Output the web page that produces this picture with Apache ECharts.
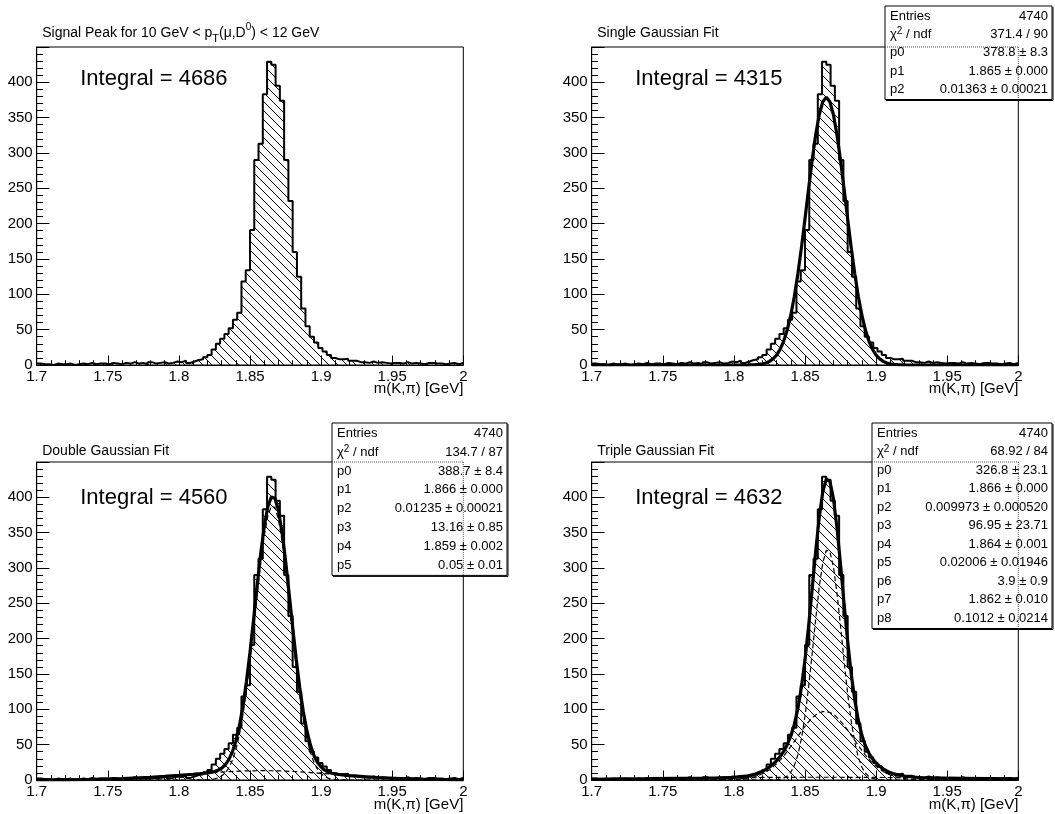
<!DOCTYPE html>
<html><head><meta charset="utf-8">
<script src="https://cdn.jsdelivr.net/npm/echarts@6/dist/echarts.min.js"></script>
<style>html,body{margin:0;padding:0;background:#fff}#c{width:1055px;height:814px}</style>
</head><body><div id="c"></div>
<script>
// ---------------- data ----------------
const histRange = [1.7, 2.0];
const histCounts = [
  2,1,1,0,2,1,1,2,0,1,
  2,1,3,1,2,2,1,3,2,1,
  3,2,4,2,3,1,4,2,3,4,
  2,3,5,4,6,3,5,7,8,11,
  14,22,30,37,44,52,64,74,118,134,
  191,290,313,383,429,425,395,374,290,232,
  160,125,80,55,40,32,24,19,14,10,
  8,8,9,6,6,4,4,3,5,3,
  4,3,2,3,3,2,4,2,3,2,
  1,3,3,2,2,1,2,3,1,3
];
const fitX = [1.70,1.72,1.74,1.76,1.78,1.79,1.80,1.81,
  1.815,1.8175,1.82,1.8225,1.825,1.8275,1.83,1.8325,1.835,1.8375,1.84,1.8425,1.845,1.8475,
  1.85,1.8525,1.855,1.8575,1.86,1.8625,1.865,1.8675,1.87,1.8725,1.875,1.8775,1.88,1.8825,
  1.885,1.8875,1.89,1.8925,1.895,1.8975,1.90,1.9025,1.905,1.9075,1.91,1.9125,1.915,
  1.92,1.93,1.94,1.96,1.98,2.00];
const singleFit = [0,0,0,0,0,0,0.01,0.11,
  0.45,0.87,1.63,2.93,5.11,8.60,14.0,22.1,33.6,49.5,70.5,97.0,129.1,166.1,
  206.7,248.8,289.4,325.6,354.1,372.5,378.8,372.5,354.1,325.6,289.4,248.8,206.7,166.1,
  129.1,97.0,70.5,49.5,33.6,22.1,14.0,8.60,5.11,2.93,1.63,0.87,0.45,
  0.11,0,0,0,0,0];
const doubleFit = [0.08,0.28,0.78,1.85,3.78,5.08,6.56,8.15,
  9.02,9.50,10.09,10.87,12.01,13.80,16.67,21.24,28.39,39.10,54.61,76.04,104.27,139.4,
  180.9,226.9,274.5,319.9,358.6,386.5,400.5,398.8,381.7,351.1,310.6,264.3,216.6,171.0,
  130.6,96.6,69.7,49.4,34.8,24.8,18.2,13.9,11.3,9.6,8.5,7.75,7.18,
  6.28,4.80,3.54,1.71,0.70,0.25];
const doubleG1 = [0,0,0,0,0,0,0,0.01,
  0.08,0.17,0.38,0.79,1.57,3.02,5.55,9.81,16.66,27.11,42.37,63.59,91.62,126.6,
  168.0,213.9,261.4,306.7,345.4,373.4,387.4,385.8,368.8,338.4,298.1,252.0,204.5,159.2,
  119.1,85.4,58.8,38.9,24.68,15.03,8.79,4.93,2.66,1.37,0.68,0.32,0.15,
  0.03,0,0,0,0,0];
const doubleG2 = [0.08,0.28,0.78,1.85,3.78,5.08,6.56,8.14,
  8.94,9.33,9.71,10.08,10.44,10.78,11.12,11.43,11.73,11.99,12.24,12.45,12.65,12.80,
  12.95,13.04,13.12,13.15,13.16,13.13,13.07,12.97,12.85,12.68,12.50,12.28,12.05,11.78,
  11.50,11.18,10.86,10.51,10.16,9.78,9.40,9.01,8.62,8.22,7.82,7.43,7.03,
  6.25,4.80,3.54,1.71,0.70,0.25];
const tripleFit = [1.08,1.46,1.89,2.35,2.83,3.14,3.83,6.01,
  8.40,10.14,12.34,15.04,18.37,22.38,27.24,33.17,40.45,49.82,62.16,78.76,101.34,131.48,
  170.09,216.84,269.45,323.19,371.64,407.88,425.93,422.48,398.10,356.80,304.78,249.25,196.37,150.34,
  113.09,84.59,63.66,48.63,37.83,29.93,23.98,19.37,15.73,12.82,10.50,8.66,7.23,
  5.28,3.54,2.97,2.44,1.98,1.54];
const tripleG1 = [0,0,0,0,0,0,0,0,
  0,0,0.01,0.02,0.07,0.19,0.48,1.16,2.61,5.51,10.93,20.36,35.60,58.49,
  90.22,130.7,177.9,227.3,272.7,307.3,325.2,323.1,301.5,264.3,217.5,168.1,122.0,83.14,
  53.24,31.99,18.06,9.57,4.76,2.23,0.98,0.40,0.16,0.06,0.02,0.01,0,
  0,0,0,0,0,0];
const tripleG2 = [0,0,0,0,0.02,0.11,0.60,2.59,
  4.90,6.60,8.75,11.41,14.65,18.51,23.05,28.27,34.08,40.52,47.42,54.57,61.90,69.13,
  76.00,82.26,87.66,92.00,95.04,96.68,96.83,95.49,92.71,88.62,83.42,77.30,70.53,63.38,
  56.05,48.82,41.85,35.34,29.38,24.04,19.37,15.37,12.01,9.24,6.99,5.21,3.83,
  1.97,0.43,0.07,0,0,0];
const tripleG3 = [1.08,1.46,1.89,2.35,2.81,3.03,3.23,3.42,
  3.50,3.54,3.58,3.61,3.65,3.68,3.71,3.74,3.76,3.79,3.81,3.83,3.84,3.86,
  3.87,3.88,3.89,3.89,3.90,3.90,3.90,3.89,3.89,3.88,3.86,3.85,3.84,3.82,
  3.80,3.78,3.75,3.72,3.69,3.66,3.63,3.60,3.56,3.52,3.49,3.44,3.40,
  3.31,3.11,2.90,2.44,1.98,1.54];

const xAxisRange = [1.7, 2.0];
const xTickStep = 0.05;
const yAxisRange = [0, 450];
const yTickStep = 50;

const panelTitles = [
  'Signal Peak for 10 GeV < p{sub|T}(μ,D{sup|0}) < 12 GeV',
  'Single Gaussian Fit',
  'Double Gaussian Fit',
  'Triple Gaussian Fit'
];
const integralTexts = ['Integral = 4686', 'Integral = 4315', 'Integral = 4560', 'Integral = 4632'];
const xAxisTitle = 'm(K,π) [GeV]';
const statsSingle = [
  ['Entries', '4740'], ['χ{sup|2} / ndf', '371.4 / 90'],
  ['p0', '378.8 ± 8.3'], ['p1', '1.865 ± 0.000'], ['p2', '0.01363 ± 0.00021']
];
const statsDouble = [
  ['Entries', '4740'], ['χ{sup|2} / ndf', '134.7 / 87'],
  ['p0', '388.7 ± 8.4'], ['p1', '1.866 ± 0.000'], ['p2', '0.01235 ± 0.00021'],
  ['p3', '13.16 ± 0.85'], ['p4', '1.859 ± 0.002'], ['p5', '0.05 ± 0.01']
];
const statsTriple = [
  ['Entries', '4740'], ['χ{sup|2} / ndf', '68.92 / 84'],
  ['p0', '326.8 ± 23.1'], ['p1', '1.866 ± 0.000'], ['p2', '0.009973 ± 0.000520'],
  ['p3', '96.95 ± 23.71'], ['p4', '1.864 ± 0.001'], ['p5', '0.02006 ± 0.01946'],
  ['p6', '3.9 ± 0.9'], ['p7', '1.862 ± 0.010'], ['p8', '0.1012 ± 0.0214']
];

// ---------------- layout / style ----------------
const F = '"Liberation Sans", Arial, Helvetica, sans-serif';
const PW = 426.6, PH = 318;
const panels = [
  {left: 36.7, top: 47, titleY: 33, intY: 79, axTitleY: 389},
  {left: 591.7, top: 47, titleY: 33, intY: 79, axTitleY: 389},
  {left: 36.7, top: 462, titleY: 451, intY: 498, axTitleY: 805},
  {left: 591.7, top: 462, titleY: 451, intY: 498, axTitleY: 805}
];

const hatch = document.createElement('canvas');
hatch.width = 9; hatch.height = 9;
(function(){
  const g = hatch.getContext('2d');
  g.strokeStyle = '#000'; g.lineWidth = 1;
  g.beginPath();
  [-9, 0, 9].forEach(o => { g.moveTo(o, 0); g.lineTo(o + 9, 9); });
  g.stroke();
})();

const binW = (histRange[1] - histRange[0]) / histCounts.length;
const histData = histCounts.map((c, i) => [histRange[0] + i * binW, c])
  .concat([[histRange[1], histCounts[histCounts.length - 1]]]);
const pts = arr => fitX.map((x, i) => [x, arr[i]]);

const grids = panels.map(p => ({
  left: p.left, top: p.top, width: PW, height: PH,
  show: true, borderColor: '#000', borderWidth: 1, backgroundColor: 'rgba(0,0,0,0)'
}));
const xAxes = panels.map((p, i) => ({
  gridIndex: i, type: 'value', min: xAxisRange[0], max: xAxisRange[1], interval: xTickStep,
  axisLine: {show: true, onZero: false, lineStyle: {color: '#000', width: 1}},
  axisTick: {show: true, inside: true, length: 9.5, lineStyle: {color: '#000', width: 1}},
  minorTick: {show: true, splitNumber: 5, length: 4.8, lineStyle: {color: '#000', width: 1}},
  splitLine: {show: false},
  axisLabel: {color: '#000', fontSize: 15, fontFamily: F, margin: 4,
    formatter: v => String(+(+v).toFixed(3))}
}));
const yAxes = panels.map((p, i) => ({
  gridIndex: i, type: 'value', min: yAxisRange[0], max: yAxisRange[1], interval: yTickStep,
  axisLine: {show: true, onZero: false, lineStyle: {color: '#000', width: 1}},
  axisTick: {show: true, inside: true, length: 12.8, lineStyle: {color: '#000', width: 1}},
  minorTick: {show: true, splitNumber: 5, length: 6.4, lineStyle: {color: '#000', width: 1}},
  splitLine: {show: false},
  axisLabel: {color: '#000', fontSize: 15, fontFamily: F, margin: 4,
    formatter: v => (v >= yAxisRange[1] ? '' : String(v))}
}));

function histSeries(i) {
  return {type: 'line', xAxisIndex: i, yAxisIndex: i, data: histData, step: 'end',
    symbol: 'none', silent: true, z: 2,
    lineStyle: {color: '#000', width: 2},
    areaStyle: {color: {image: hatch, repeat: 'repeat'}, opacity: 1}};
}
function curve(i, arr, dashed) {
  return {type: 'line', xAxisIndex: i, yAxisIndex: i, data: pts(arr), symbol: 'none',
    silent: true, z: dashed ? 3 : 4, smooth: false,
    lineStyle: dashed ? {color: '#000', width: 1.2, type: [5, 3]} : {color: '#000', width: 3.2}};
}
const series = [
  histSeries(0),
  histSeries(1), curve(1, singleFit, false),
  histSeries(2), curve(2, doubleG1, true), curve(2, doubleG2, true), curve(2, doubleFit, false),
  histSeries(3), curve(3, tripleG1, true), curve(3, tripleG2, true), curve(3, tripleG3, true), curve(3, tripleFit, false)
];

// ---------------- text / boxes ----------------
const richStyles = {
  sub: {fontSize: 11, fontFamily: F, fill: '#000', verticalAlign: 'bottom', lineHeight: 22},
  sup: {fontSize: 10, fontFamily: F, fill: '#000', verticalAlign: 'top', lineHeight: 16}
};
const els = [];
panels.forEach((p, i) => {
  els.push({type: 'text', x: p.left + 5.5, y: p.titleY, z: 100,
    style: {text: panelTitles[i], fill: '#000', font: '14px ' + F, verticalAlign: 'middle', align: 'left', rich: richStyles}});
  els.push({type: 'text', x: p.left + 43.5, y: p.intY, z: 100,
    style: {text: integralTexts[i], fill: '#000', font: '22px ' + F, verticalAlign: 'middle', align: 'left'}});
  els.push({type: 'text', x: p.left + PW, y: p.axTitleY, z: 100,
    style: {text: xAxisTitle, fill: '#000', font: '15px ' + F, verticalAlign: 'middle', align: 'right'}});
});
function statsBox(x0, y0, w, rowH, rows, p) {
  const h = rows.length * rowH + 2;
  els.push({type: 'rect', z: 100, shape: {x: x0, y: y0, width: w, height: h},
    style: {fill: '#fff', stroke: '#000', lineWidth: 1}});
  els.push({type: 'line', z: 101, shape: {x1: x0 + w + 1, y1: y0 + 1, x2: x0 + w + 1, y2: y0 + h + 1},
    style: {stroke: '#000', lineWidth: 1}});
  els.push({type: 'line', z: 101, shape: {x1: x0 + 1, y1: y0 + h + 1, x2: x0 + w + 1, y2: y0 + h + 1},
    style: {stroke: '#000', lineWidth: 1}});
  const fr = p.left + PW, ft = p.top;
  els.push({type: 'line', z: 101, shape: {x1: x0, y1: ft, x2: fr, y2: ft},
    style: {stroke: '#555', lineWidth: 1, lineDash: [1, 1]}});
  els.push({type: 'line', z: 101, shape: {x1: fr, y1: ft, x2: fr, y2: y0 + h},
    style: {stroke: '#555', lineWidth: 1, lineDash: [1, 1]}});
  rows.forEach((r, k) => {
    const yc = y0 + 1 + rowH * (k + 0.5);
    els.push({type: 'text', z: 102, x: x0 + 5, y: yc,
      style: {text: r[0], fill: '#000', font: '13px ' + F, align: 'left', verticalAlign: 'middle', rich: richStyles}});
    els.push({type: 'text', z: 102, x: x0 + w - 4, y: yc,
      style: {text: r[1], fill: '#000', font: '13px ' + F, align: 'right', verticalAlign: 'middle'}});
  });
}
statsBox(885, 6, 167, 18.3, statsSingle, panels[1]);
statsBox(332, 423, 175, 18.8, statsDouble, panels[2]);
statsBox(872, 423, 180, 18.5, statsTriple, panels[3]);

const chart = echarts.init(document.getElementById('c'), null, {renderer: 'canvas', devicePixelRatio: 1});
chart.setOption({
  animation: false,
  backgroundColor: '#fff',
  grid: grids, xAxis: xAxes, yAxis: yAxes, series: series,
  graphic: {elements: els}
});
</script></body></html>
